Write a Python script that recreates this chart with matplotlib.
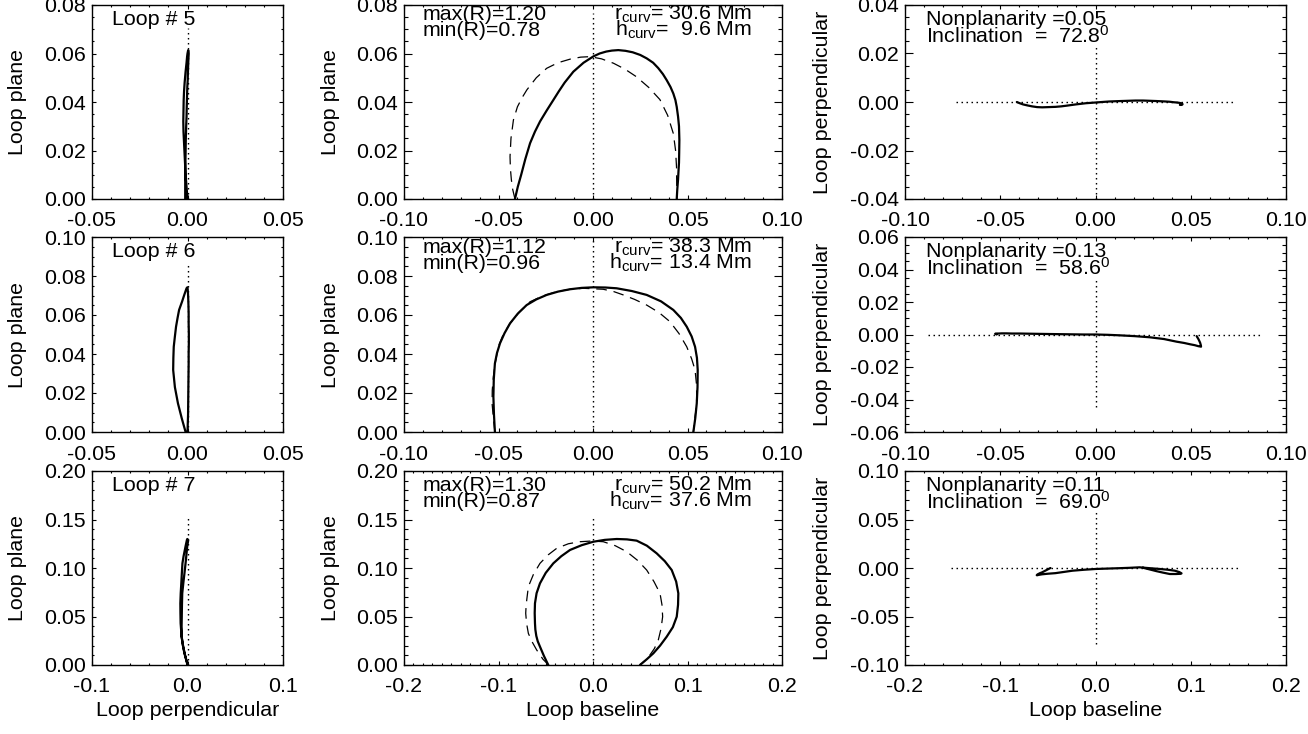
import matplotlib
matplotlib.use('Agg')
import matplotlib.pyplot as plt
from matplotlib.ticker import MultipleLocator, FormatStrFormatter

plt.rcParams['font.family'] = ['Liberation Sans', 'DejaVu Sans']
plt.rcParams['mathtext.fontset'] = 'custom'
plt.rcParams['mathtext.rm'] = 'Liberation Sans'
plt.rcParams['mathtext.it'] = 'Liberation Sans'
plt.rcParams['mathtext.sf'] = 'Liberation Sans'
plt.rcParams['axes.unicode_minus'] = False
plt.rcParams['axes.linewidth'] = 1.0

# ---------------- data ----------------
loop_ids = [5, 6, 7]
max_R = [1.20, 1.12, 1.30]
min_R = [0.78, 0.96, 0.87]
r_curv = [30.6, 38.3, 50.2]
h_curv = [9.6, 13.4, 37.6]
nonplanarity = [0.05, 0.13, 0.11]
inclination = [72.8, 58.6, 69.0]

# loop 5: baseline, height (loop plane), perpendicular
loop5_base = [-0.0413, -0.0398, -0.0380, -0.0358, -0.0333, -0.0307, -0.0280, -0.0245, -0.0210, -0.0180,
              -0.0150, -0.0104, -0.0050, 0.0002, 0.0035, 0.0070, 0.0100, 0.0134, 0.0172, 0.0210,
              0.0250, 0.0284, 0.0318, 0.0345, 0.0370, 0.0390, 0.0410, 0.0425, 0.0436, 0.0443,
              0.0450, 0.0455, 0.0457, 0.0456, 0.0455, 0.0452, 0.0450, 0.0446, 0.0443]
loop5_height = [0.000, 0.005, 0.010, 0.0165, 0.0230, 0.0278, 0.0320, 0.0365, 0.0408, 0.0445,
                0.0480, 0.0525, 0.0562, 0.0588, 0.0600, 0.0608, 0.0612, 0.0614, 0.0611, 0.0605,
                0.0594, 0.0580, 0.0562, 0.0540, 0.0515, 0.0490, 0.0462, 0.0435, 0.0408, 0.0380,
                0.0340, 0.0300, 0.0243, 0.0190, 0.0150, 0.0110, 0.0080, 0.0040, 0.000]
loop5_perp = [0.0000, -0.0005, -0.0010, -0.0014, -0.0018, -0.0021, -0.0022, -0.0021, -0.0020, -0.0018,
              -0.0015, -0.0010, -0.0005, -0.0002, 0.0000, 0.0002, 0.0003, 0.0004, 0.0005, 0.0006,
              0.0006, 0.0005, 0.0004, 0.0003, 0.0002, 0.0001, -0.0001, -0.0002, -0.0003, -0.0004,
              -0.0005, -0.0007, -0.0009, -0.0010, -0.0011, -0.0012, -0.0012, -0.0012, -0.0012]
fit5_base = [-0.0413, -0.0425, -0.0432, -0.0437, -0.0439, -0.0434, -0.0421, -0.0400, -0.0375, -0.0350,
             -0.0300, -0.0245, -0.0185, -0.0120, -0.0065, -0.0016, 0.0045, 0.0108, 0.0170, 0.0230,
             0.0295, 0.0354, 0.0395, 0.0425, 0.0437, 0.0442, 0.0443, 0.0443]
fit5_height = [0.000, 0.004, 0.008, 0.0125, 0.0175, 0.0250, 0.0326, 0.0380, 0.0418, 0.0450,
               0.0500, 0.0539, 0.0562, 0.0577, 0.0585, 0.0587, 0.0578, 0.0560, 0.0535, 0.0504,
               0.0460, 0.0410, 0.0345, 0.0270, 0.0200, 0.0130, 0.0060, 0.000]

# loop 6
loop6_base = [-0.0519, -0.0524, -0.0527, -0.0525, -0.0519, -0.0508, -0.0492, -0.0468, -0.0439, -0.0398,
              -0.0351, -0.0300, -0.0245, -0.0185, -0.0122, -0.0060, 0.0002, 0.0065, 0.0125, 0.0205,
              0.0284, 0.0360, 0.0425, 0.0465, 0.0496, 0.0522, 0.0540, 0.0550, 0.0554, 0.0553,
              0.0549, 0.0541, 0.0531]
loop6_height = [0.000, 0.0090, 0.0181, 0.0270, 0.0352, 0.0405, 0.0455, 0.0507, 0.0557, 0.0607,
                0.0651, 0.0680, 0.0703, 0.0720, 0.0732, 0.0739, 0.0742, 0.0741, 0.0737, 0.0723,
                0.0703, 0.0670, 0.0626, 0.0585, 0.0540, 0.0490, 0.0437, 0.0380, 0.0318, 0.0230,
                0.0147, 0.0070, 0.000]
loop6_perp = [0.0000, 0.0003, 0.0004, 0.0005, 0.0006, 0.0006, 0.0007, 0.0007, 0.0006, 0.0006,
              0.0005, 0.0004, 0.0003, 0.0002, 0.0001, 0.0000, 0.0000, -0.0002, -0.0005, -0.0010,
              -0.0017, -0.0028, -0.0044, -0.0052, -0.0060, -0.0066, -0.0072, -0.0074, -0.0075, -0.0066,
              -0.0050, -0.0030, -0.0010]
fit6_base = [-0.0519, -0.0527, -0.0534, -0.0533, -0.0527, -0.0516, -0.0501, -0.0475, -0.0439, -0.0390,
             -0.0333, -0.0265, -0.0192, -0.0120, -0.0051, 0.0054, 0.0110, 0.0160, 0.0220, 0.0284,
             0.0350, 0.0407, 0.0455, 0.0496, 0.0522, 0.0540, 0.0547, 0.0549, 0.0546, 0.0540,
             0.0535, 0.0531]
fit6_height = [0.000, 0.0070, 0.0147, 0.0215, 0.0284, 0.0360, 0.0437, 0.0500, 0.0557, 0.0615,
               0.0668, 0.0698, 0.0720, 0.0732, 0.0737, 0.0732, 0.0720, 0.0703, 0.0680, 0.0651,
               0.0612, 0.0566, 0.0505, 0.0437, 0.0375, 0.0318, 0.0250, 0.0181, 0.0120, 0.0080,
               0.0040, 0.000]

# loop 7
loop7_base = [-0.0473, -0.0520, -0.0561, -0.0585, -0.0600, -0.0610, -0.0614, -0.0617, -0.0614, -0.0597,
              -0.0561, -0.0500, -0.0420, -0.0335, -0.0243, -0.0120, 0.0004, 0.0125, 0.0251, 0.0360,
              0.0462, 0.0570, 0.0674, 0.0760, 0.0833, 0.0880, 0.0903, 0.0900, 0.0886, 0.0845,
              0.0780, 0.0710, 0.0638, 0.0570, 0.0497]
loop7_height = [0.000, 0.0095, 0.0189, 0.0245, 0.0300, 0.0365, 0.0430, 0.0535, 0.0636, 0.0740,
                0.0842, 0.0950, 0.1048, 0.1122, 0.1186, 0.1235, 0.1271, 0.1290, 0.1299, 0.1295,
                0.1282, 0.1230, 0.1151, 0.1070, 0.0979, 0.0860, 0.0739, 0.0620, 0.0498, 0.0390,
                0.0292, 0.0200, 0.0120, 0.0060, 0.000]
loop7_perp = [0.0000, -0.0024, -0.0045, -0.0054, -0.0062, -0.0067, -0.0072, -0.0074, -0.0075, -0.0071,
              -0.0065, -0.0059, -0.0053, -0.0041, -0.0028, -0.0018, -0.0010, -0.0006, -0.0002, 0.0002,
              0.0007, -0.0002, -0.0010, -0.0018, -0.0028, -0.0042, -0.0055, -0.0058, -0.0060, -0.0062,
              -0.0062, -0.0048, -0.0032, -0.0015, 0.0003]
fit7_base = [-0.0473, -0.0500, -0.0530, -0.0596, -0.0645, -0.0684, -0.0703, -0.0712, -0.0708, -0.0700,
             -0.0684, -0.0630, -0.0561, -0.0475, -0.0384, -0.0260, -0.0138, -0.0015, 0.0109, 0.0235,
             0.0357, 0.0470, 0.0568, 0.0645, 0.0709, 0.0730, 0.0737, 0.0720, 0.0691, 0.0650,
             0.0600, 0.0550, 0.0497]
fit7_height = [0.000, 0.0030, 0.0060, 0.0155, 0.0240, 0.0326, 0.0430, 0.0533, 0.0610, 0.0680,
               0.0808, 0.0935, 0.1048, 0.1135, 0.1203, 0.1250, 0.1271, 0.1278, 0.1271, 0.1230,
               0.1168, 0.1080, 0.0979, 0.0860, 0.0739, 0.0620, 0.0498, 0.0375, 0.0258, 0.0170,
               0.0100, 0.0045, 0.000]

loops_base = [loop5_base, loop6_base, loop7_base]
loops_height = [loop5_height, loop6_height, loop7_height]
loops_perp = [loop5_perp, loop6_perp, loop7_perp]
fits_base = [fit5_base, fit6_base, fit7_base]
fits_height = [fit5_height, fit6_height, fit7_height]

# dotted guide lines
col1_guide_top = [0.0705, 0.0873, 0.155]
col2_guide_top = [0.0766, 0.0985, 0.155]
col3_hguide_half = [0.073, 0.088, 0.152]
col3_vguide_bottom = [-0.040, -0.0444, -0.078]
col3_vguide_top = [0.023, 0.0356, 0.060]

# axis settings per row
col1_xlim = [(-0.05, 0.05), (-0.05, 0.05), (-0.1, 0.1)]
col1_xmaj = [0.05, 0.05, 0.1]
col1_xmin = [0.01, 0.01, 0.02]
col1_xfmt = ['%.2f', '%.2f', '%.1f']
height_lim = [(0, 0.08), (0, 0.10), (0, 0.20)]
height_maj = [0.02, 0.02, 0.05]
height_min = [0.005, 0.005, 0.01]
col2_xlim = [(-0.1, 0.1), (-0.1, 0.1), (-0.2, 0.2)]
col2_xmaj = [0.05, 0.05, 0.1]
col2_xmin = [0.01, 0.01, 0.01]
col2_xfmt = ['%.2f', '%.2f', '%.1f']
col3_xlim = [(-0.1, 0.1), (-0.1, 0.1), (-0.2, 0.2)]
col3_xmaj = [0.05, 0.05, 0.1]
col3_xmin = [0.01, 0.01, 0.02]
col3_ylim = [(-0.04, 0.04), (-0.06, 0.06), (-0.1, 0.1)]
col3_ymaj = [0.02, 0.02, 0.05]
col3_ymin = [0.005, 0.005, 0.01]

# ---------------- layout ----------------
W, H = 1308, 734
FS = 15.4
cols = [(92, 283), (404, 782), (905, 1286)]
rows = [(5, 199), (237, 432), (471, 665)]
PX = 100 / 72.0

fig = plt.figure(figsize=(W / 100, H / 100), dpi=100)


def ftext(xp, yp, s, **kw):
    fig.text(xp / W, 1 - yp / H, s, fontsize=FS, **kw)


def style(ax, wpx, hpx, xlim, xmaj, xmin, xfmt, ylim, ymaj, ymin, yfmt):
    ax.set_xlim(*xlim)
    ax.set_ylim(*ylim)
    ax.xaxis.set_major_locator(MultipleLocator(xmaj))
    ax.xaxis.set_minor_locator(MultipleLocator(xmin))
    ax.yaxis.set_major_locator(MultipleLocator(ymaj))
    ax.yaxis.set_minor_locator(MultipleLocator(ymin))
    ax.xaxis.set_major_formatter(FormatStrFormatter(xfmt))
    ax.yaxis.set_major_formatter(FormatStrFormatter(yfmt))
    ax.tick_params(which='both', direction='in', top=True, right=True, width=0.8,
                   labelsize=FS, colors='black')
    xl = 0.02 * hpx / PX
    yl = 0.02 * wpx / PX
    ax.xaxis.set_tick_params(which='major', length=xl, pad=9)
    ax.xaxis.set_tick_params(which='minor', length=xl / 2)
    ax.yaxis.set_tick_params(which='major', length=yl, pad=4.3)
    ax.yaxis.set_tick_params(which='minor', length=yl / 2)


SOLID_LW = 1.6
DOT = (0, (1.1, 2.5))
DASH = (0, (8.5, 5.5))
text_off = [15, 15.7, 19.7]
LINE_GAP = 16

for r in range(3):
    y0, y1 = rows[r]
    hpx = y1 - y0
    axs = []
    for c in range(3):
        x0, x1 = cols[c]
        ax = fig.add_axes([x0 / W, 1 - y1 / H, (x1 - x0) / W, hpx / H])
        axs.append(ax)
    a1, a2, a3 = axs

    # column 1: perpendicular vs loop plane
    a1.plot([0, 0], [0, col1_guide_top[r]], color='black', lw=1.0, ls=DOT)
    a1.plot(loops_perp[r], loops_height[r], color='black', lw=SOLID_LW,
            solid_joinstyle='round', solid_capstyle='round')
    style(a1, cols[0][1] - cols[0][0], hpx, col1_xlim[r], col1_xmaj[r], col1_xmin[r], col1_xfmt[r],
          height_lim[r], height_maj[r], height_min[r], '%.2f')

    # column 2: baseline vs loop plane
    a2.plot([0, 0], [0, col2_guide_top[r]], color='black', lw=1.0, ls=DOT)
    a2.plot(fits_base[r], fits_height[r], color='black', lw=0.9, ls=DASH)
    a2.plot(loops_base[r], loops_height[r], color='black', lw=SOLID_LW,
            solid_joinstyle='round', solid_capstyle='round')
    style(a2, cols[1][1] - cols[1][0], hpx, col2_xlim[r], col2_xmaj[r], col2_xmin[r], col2_xfmt[r],
          height_lim[r], height_maj[r], height_min[r], '%.2f')

    # column 3: baseline vs perpendicular
    a3.plot([-col3_hguide_half[r], col3_hguide_half[r]], [0, 0], color='black', lw=1.0, ls=DOT)
    a3.plot([0, 0], [col3_vguide_bottom[r], col3_vguide_top[r]], color='black', lw=1.0, ls=DOT)
    a3.plot(loops_base[r], loops_perp[r], color='black', lw=SOLID_LW,
            solid_joinstyle='round', solid_capstyle='round')
    style(a3, cols[2][1] - cols[2][0], hpx, col3_xlim[r], col3_xmaj[r], col3_xmin[r], col2_xfmt[r],
          col3_ylim[r], col3_ymaj[r], col3_ymin[r], '%.2f')

    # texts
    ftext(cols[0][0] + 20, y0 + 20, f"Loop # {loop_ids[r]}", va='baseline')
    ftext(cols[1][0] + 19, y0 + text_off[r], f"max(R)={max_R[r]:.2f}", va='baseline')
    ftext(cols[1][0] + 19, y0 + text_off[r] + LINE_GAP, f"min(R)={min_R[r]:.2f}", va='baseline')
    ftext(752, y0 + text_off[r], r"$\mathrm{r}_{\mathrm{curv}}$" + f"={r_curv[r]:5.1f} Mm",
          va='baseline', ha='right')
    ftext(752, y0 + text_off[r] + LINE_GAP, r"$\mathrm{h}_{\mathrm{curv}}$" + f"={h_curv[r]:5.1f} Mm",
          va='baseline', ha='right')
    ftext(cols[2][0] + 21, y0 + 20, f"Nonplanarity ={nonplanarity[r]:.2f}", va='baseline')
    ftext(cols[2][0] + 21, y0 + 38, f"Inclination  = {inclination[r]:5.1f}" + r"$^{\mathrm{0}}$",
          va='baseline')

    # y labels
    yc = (y0 + y1) / 2
    ftext(18, yc, "Loop plane", rotation=90, ha='center', va='center')
    ftext(330, yc, "Loop plane", rotation=90, ha='center', va='center')
    ftext(822, yc, "Loop perpendicular", rotation=90, ha='center', va='center')

# x labels
ftext((cols[0][0] + cols[0][1]) / 2, 716, "Loop perpendicular", ha='center', va='baseline')
ftext((cols[1][0] + cols[1][1]) / 2, 716, "Loop baseline", ha='center', va='baseline')
ftext((cols[2][0] + cols[2][1]) / 2, 716, "Loop baseline", ha='center', va='baseline')

fig.savefig('out.png', dpi=100)
